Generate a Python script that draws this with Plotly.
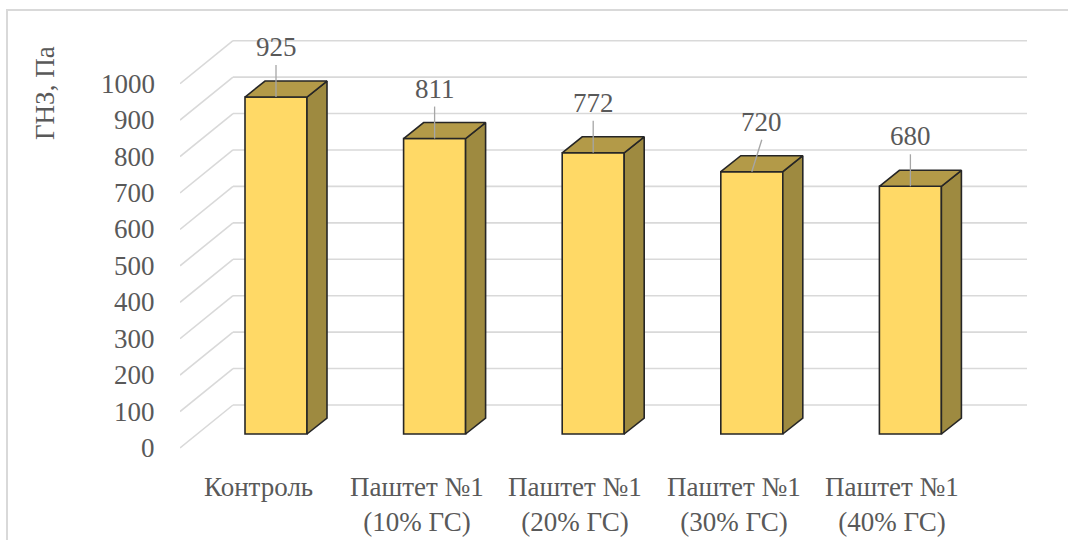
import plotly.graph_objects as go

# ---------------- data ----------------
categories = ["Контроль", "Паштет №1<br>(10% ГС)", "Паштет №1<br>(20% ГС)",
              "Паштет №1<br>(30% ГС)", "Паштет №1<br>(40% ГС)"]
values = [925, 811, 772, 720, 680]
y_ticks = [0, 100, 200, 300, 400, 500, 600, 700, 800, 900, 1000]
y_title = "ГНЗ, Па"

# ---------------- geometry / style ----------------
W, H = 1068, 540
ML, MR, MT, MB = 180, 41, 20, 80
PX_X = 158.6          # px per category unit
PX_Y = 0.3643         # px per value unit
ZERO_PX = 434         # pixel row of value 0 on the bar plane
FIRST_PX = 276        # pixel column of first bar centre

plot_w = W - ML - MR
plot_h = H - MT - MB
xa = -(FIRST_PX - ML) / PX_X
xb = xa + plot_w / PX_X
yb = (ZERO_PX - MT) / PX_Y
ya = (ZERO_PX - (H - MB)) / PX_Y

BAR_W = 62 / PX_X
DEP_DX = 20 / PX_X        # bar depth (x)
DEP_DY = 16 / PX_Y        # bar depth (y)
FRONT_DY = -14 / PX_Y     # floor front edge relative to bar plane
BACK_DY = 29 / PX_Y       # back wall relative to bar plane
WALL_DX = 53 / PX_X       # side wall depth in x
LABEL_DX = -18 / PX_X     # category label shift (front plane)
LEADER_DY = 32 / PX_Y     # leader line length
LABEL_DY = 50 / PX_Y      # data label offset above bar

FRONT_COL = "#FFD966"
SIDE_COL = "#9E8A40"
TOP_COL = "#B39A48"
EDGE = "#262626"
GRID = "#D9D9D9"
TXT = "#595959"
FONT = "Liberation Serif"
FS = 27
ANG = -0.01

x_pos = list(range(len(values)))
label_shift_px = [0, 0, 0, 10, 0]


def data2paper_x(x):
    return (x - xa) / (xb - xa)


def data2paper_y(y):
    return (y - ya) / (yb - ya)


def px2paper_x(px):
    return (px - ML) / plot_w


def px2paper_y(py):
    return ((H - MB) - py) / plot_h


fig = go.Figure()

# front faces
fig.add_trace(go.Bar(
    x=x_pos, y=values, width=BAR_W,
    marker=dict(color=FRONT_COL, line=dict(color=EDGE, width=1.6)),
    hoverinfo="skip", showlegend=False,
))

# side and top faces, leader lines
sx, sy = [], []
tx, ty = [], []
lx, ly = [], []
for xi, v, sh in zip(x_pos, values, label_shift_px):
    xl, xr = xi - BAR_W / 2, xi + BAR_W / 2
    sx += [xr, xr, xr + DEP_DX, xr + DEP_DX, xr, None]
    sy += [0, v, v + DEP_DY, DEP_DY, 0, None]
    tx += [xl, xr, xr + DEP_DX, xl + DEP_DX, xl, None]
    ty += [v, v, v + DEP_DY, v + DEP_DY, v, None]
    lx += [xi, xi + sh / PX_X, None]
    ly += [v, v + LEADER_DY, None]
fig.add_trace(go.Scatter(x=sx, y=sy, mode="lines", fill="toself", fillcolor=SIDE_COL,
                         line=dict(color=EDGE, width=1.6), hoverinfo="skip", showlegend=False))
fig.add_trace(go.Scatter(x=tx, y=ty, mode="lines", fill="toself", fillcolor=TOP_COL,
                         line=dict(color=EDGE, width=1.6), hoverinfo="skip", showlegend=False))
fig.add_trace(go.Scatter(x=lx, y=ly, mode="lines", line=dict(color="#A6A6A6", width=1.3),
                         hoverinfo="skip", showlegend=False))

# gridlines (perspective floor/wall)
shapes = []
for v in y_ticks:
    shapes.append(dict(type="line", xref="x", yref="y", layer="below",
                       x0=xa, y0=v + FRONT_DY, x1=xa + WALL_DX, y1=v + BACK_DY,
                       line=dict(color=GRID, width=1.6)))
    shapes.append(dict(type="line", xref="x", yref="y", layer="below",
                       x0=xa + WALL_DX, y0=v + BACK_DY, x1=xb, y1=v + BACK_DY,
                       line=dict(color=GRID, width=1.6)))

# outer frame
shapes.append(dict(type="rect", xref="paper", yref="paper", layer="below",
                   x0=px2paper_x(7), y0=px2paper_y(560), x1=px2paper_x(1090), y1=px2paper_y(10),
                   line=dict(color="#D9D9D9", width=2), fillcolor="rgba(0,0,0,0)"))

annotations = []
# data labels
for xi, v, sh in zip(x_pos, values, label_shift_px):
    annotations.append(dict(
        x=data2paper_x(xi + sh / PX_X), y=data2paper_y(v + LABEL_DY),
        xref="paper", yref="paper", xanchor="center", yanchor="middle",
        text=str(v), showarrow=False, textangle=ANG,
        font=dict(family=FONT, size=FS, color=TXT),
    ))

# y tick labels (front plane)
for t in y_ticks:
    annotations.append(dict(
        x=px2paper_x(157), y=data2paper_y(t + FRONT_DY), xref="paper", yref="paper",
        xanchor="right", yanchor="middle", showarrow=False, text=str(t), textangle=ANG,
        font=dict(family=FONT, size=FS, color=TXT),
    ))

# category labels (front plane)
for xi, c in zip(x_pos, categories):
    annotations.append(dict(
        x=data2paper_x(xi + LABEL_DX), y=px2paper_y(470), xref="paper", yref="paper",
        xanchor="center", yanchor="top", showarrow=False, text=c, textangle=ANG,
        font=dict(family=FONT, size=FS, color=TXT),
    ))

# axis title
annotations.append(dict(
    x=px2paper_x(45), y=px2paper_y(93), xref="paper", yref="paper",
    xanchor="center", yanchor="middle",
    text=y_title, textangle=-90, showarrow=False,
    font=dict(family=FONT, size=FS, color=TXT),
))

fig.update_layout(
    width=W, height=H,
    margin=dict(l=ML, r=MR, t=MT, b=MB, autoexpand=False),
    paper_bgcolor="#FFFFFF", plot_bgcolor="rgba(0,0,0,0)",
    shapes=shapes, annotations=annotations,
    font=dict(family=FONT, size=FS, color=TXT),
    showlegend=False,
    xaxis=dict(range=[xa, xb], showgrid=False, zeroline=False, showline=False, automargin=False,
               showticklabels=False, ticks="", fixedrange=True),
    yaxis=dict(range=[ya, yb], showgrid=False, zeroline=False, showline=False, automargin=False,
               showticklabels=False, ticks="", fixedrange=True),
)

fig.write_html("out.html")
